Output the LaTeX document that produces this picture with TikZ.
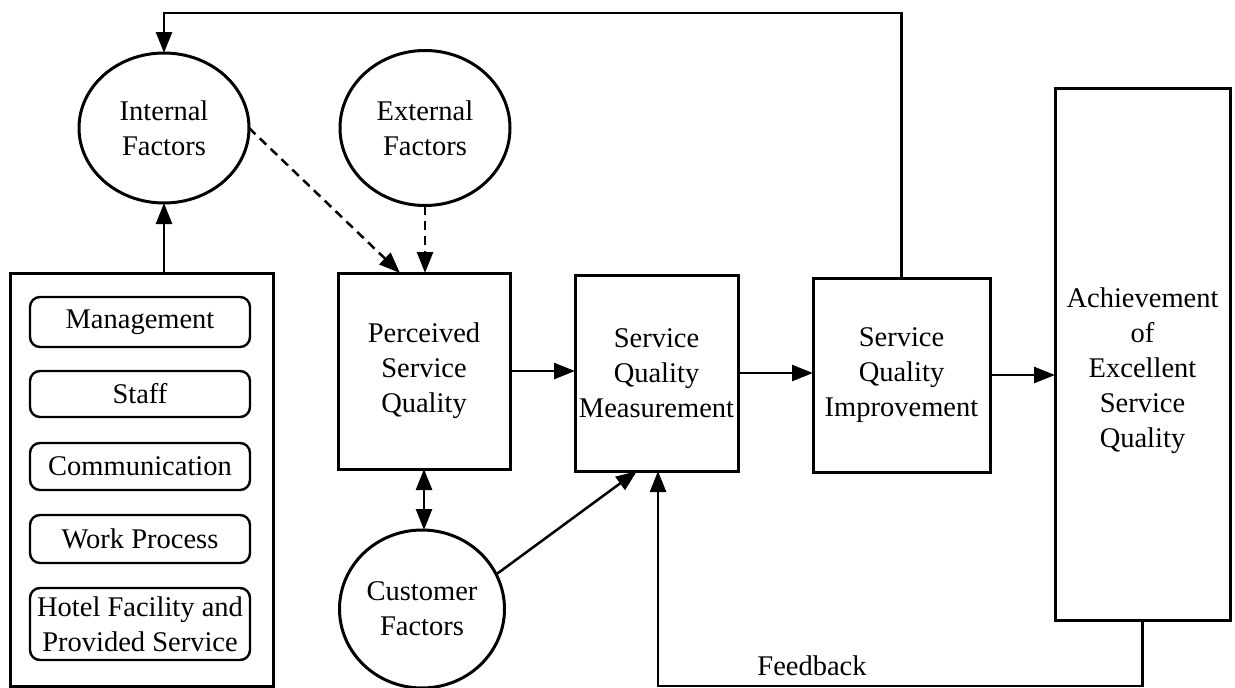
\documentclass[tikz,border=0pt]{standalone}
\usepackage{fontspec}
\setmainfont{Liberation Serif}
\usetikzlibrary{shapes.geometric,arrows.meta,calc}
\begin{document}
\begin{tikzpicture}[x=1pt,y=-1pt,
  font=\fontsize{28.5}{35}\selectfont,
  every node/.style={inner sep=0pt,outer sep=0pt},
  box/.style={draw,line width=3pt,rectangle,align=center},
  oval/.style={draw,line width=3pt,ellipse,align=center},
  item/.style={draw,line width=2.4pt,rounded corners=10pt,minimum width=220pt,align=center},
  conn/.style={line width=2.5pt},
  arr/.style={conn,-{Triangle[length=21pt,width=16pt]}},
  dashline/.style={arr,dash pattern=on 9pt off 6pt}
]
\useasboundingbox (0,0) rectangle (1235,688);

% ellipses
\node[oval,minimum width=170pt,minimum height=150pt] (int) at (164,128) {Internal\\Factors};
\node[oval,minimum width=170pt,minimum height=155pt] (ext) at (425,128) {External\\Factors};
\node[oval,minimum width=165pt,minimum height=158pt] (cust) at (422,609) {Customer\\Factors};

% left box with items
\node[box,minimum width=263pt,minimum height=413pt] (lbox) at (141.5,479.5) {};
\node[item,minimum height=50pt] (mgmt) at (140,322) {Management};
\node[item,minimum height=46pt] (staff) at (140,394) {Staff};
\node[item,minimum height=47pt] (comm) at (140,466.5) {Communication};
\node[item,minimum height=48pt] (work) at (140,539) {Work Process};
\node[item,minimum height=72pt] (hotel) at (140,624) {Hotel Facility and\\Provided Service};

% main boxes
\node[box,minimum width=172pt,minimum height=196pt] (perc) at (424,371) {Perceived\\Service\\Quality};
\node[box,minimum width=163pt,minimum height=196pt] (sqm) at (656.5,373) {Service\\Quality\\Measurement};
\node[box,minimum width=177pt,minimum height=194pt] (sqi) at (901.5,375) {Service\\Quality\\Improvement};
\node[box,minimum width=175pt,minimum height=532pt] (ach) at (1142.5,354) {};
\node[align=center] (achtext) at (1142.5,371) {Achievement\\of\\Excellent\\Service\\Quality};

% connectors
\coordinate (tl) at (164,13);
\draw[arr] (sqi.north) |- (tl) -- (int.north);
\draw[arr] (int.south |- lbox.north) -- (int.south);
\draw[dashline] (int.east) -- ([xshift=62pt]perc.north west);
\draw[dashline] (ext.south) -- (ext.south |- perc.north);
\draw[arr] (perc.east) -- (perc.east -| sqm.west);
\draw[arr] (sqm.east) -- (sqm.east -| sqi.west);
\draw[arr] (sqi.east) -- (sqi.east -| ach.west);
\draw[conn,{Triangle[length=21pt,width=16pt]}-{Triangle[length=21pt,width=16pt]}] (perc.south) -- (perc.south |- cust.north);
\draw[arr] (cust.25) -- ([xshift=-19.5pt]sqm.south);
\coordinate (fb) at (1142.5,686);
\draw[arr] (ach.south) -- (fb) -| ([xshift=1.5pt]sqm.south);
\node (fblabel) at (812,666) {Feedback};
\end{tikzpicture}
\end{document}
